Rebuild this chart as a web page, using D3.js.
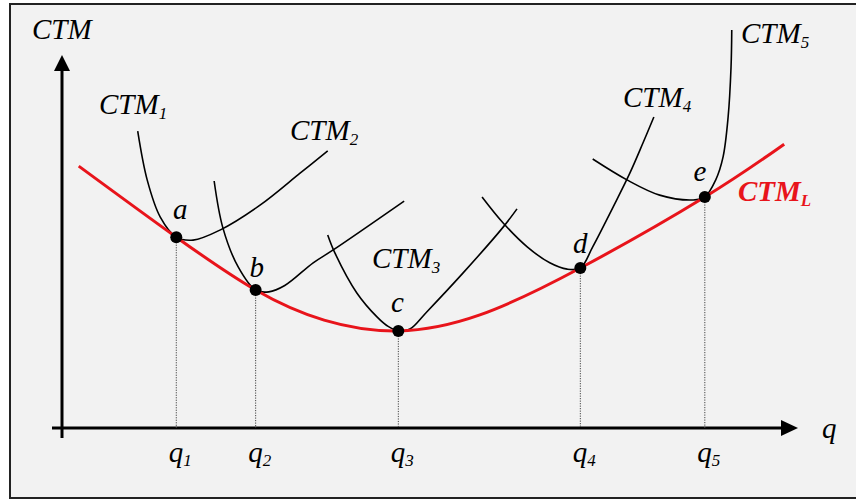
<!DOCTYPE html>
<html>
<head>
<meta charset="utf-8">
<script src="https://cdn.jsdelivr.net/npm/d3@7"></script>
<style>
  body { margin: 0; background: #fff; }
  text { font-family: "Liberation Serif", "Times New Roman", serif; font-style: italic; }
</style>
</head>
<body>
<div id="chart"></div>
<script>
// tangency points on the long-run curve (q, CTM)
const pointNames = ["a", "b", "c", "d", "e"];
const pointQ = [15.7, 26.6, 46.2, 71.2, 88.3];
const pointC = [51.3, 37.1, 26.1, 43.0, 62.1];
const qSubs = ["1", "2", "3", "4", "5"];

// long-run envelope CTM_L
const envQ = [2.3, 15.7, 26.6, 36.0, 46.2, 57.4, 71.2, 88.3, 99.2];
const envC = [70.4, 51.3, 37.1, 29.0, 26.1, 30.4, 43.0, 62.1, 76.3];

// short-run curves CTM_1 .. CTM_5
const ctm1Q = [10.4, 11.7, 13.5, 15.7, 18.0, 21.7, 27.2, 32.7, 36.5];
const ctm1C = [79.8, 66.7, 56.7, 51.3, 50.5, 53.2, 59.9, 68.5, 74.5];
const ctm2Q = [20.9, 22.1, 24.2, 26.6, 28.4, 30.6, 34.5, 37.2, 47.0];
const ctm2C = [66.4, 53.8, 43.3, 37.1, 36.6, 38.3, 44.4, 47.8, 61.0];
const ctm3Q = [36.5, 37.5, 40.5, 43.3, 44.8, 46.2, 47.8, 50.1, 55.1, 60.6, 62.5];
const ctm3C = [51.9, 47.0, 36.3, 29.8, 27.3, 26.1, 26.6, 31.2, 41.7, 54.0, 58.9];
const ctm4Q = [57.7, 60.6, 63.9, 67.0, 69.4, 71.2, 72.9, 75.7, 78.0, 79.8, 81.3];
const ctm4C = [62.1, 55.1, 48.7, 44.4, 42.7, 43.0, 48.7, 59.4, 68.5, 76.6, 83.6];
const ctm5Q = [72.9, 77.6, 82.1, 86.7, 88.3, 89.8, 90.8, 91.5, 91.9, 92.0];
const ctm5C = [72.3, 66.7, 62.6, 61.3, 62.1, 66.7, 72.8, 83.6, 97.0, 107.0];

const W = 856, H = 502;
const RED = "#e8141b";

const svg = d3.select("#chart").append("svg")
  .attr("width", W)
  .attr("height", H);

svg.append("rect")
  .attr("x", 10).attr("y", 4)
  .attr("width", 860).attr("height", 494)
  .attr("fill", "#f2f2f2")
  .attr("stroke", "#222")
  .attr("stroke-width", 2);

const x = d3.scaleLinear().domain([0, 100]).range([62, 790]);
const y = d3.scaleLinear().domain([0, 100]).range([428, 56]);

const line = d3.line()
  .x((d) => x(d[0]))
  .y((d) => y(d[1]))
  .curve(d3.curveCatmullRom.alpha(0.5));

// axes
const ax = svg.append("g");
ax.append("line")
  .attr("x1", x(0)).attr("x2", x(0))
  .attr("y1", y(0) + 10).attr("y2", y(100) + 12)
  .attr("stroke", "#000").attr("stroke-width", 3);
ax.append("path")
  .attr("d", `M${x(0)},${y(100) - 1}l-8,16h16z`)
  .attr("fill", "#000");
ax.append("line")
  .attr("x1", x(0) - 10).attr("x2", x(100) - 6)
  .attr("y1", y(0)).attr("y2", y(0))
  .attr("stroke", "#000").attr("stroke-width", 3);
ax.append("path")
  .attr("d", `M${x(100) + 8},${y(0)}l-17,-8v16z`)
  .attr("fill", "#000");

// dotted drop lines
const pts = pointQ.map((q, i) => ({ q, c: pointC[i], name: pointNames[i], sub: qSubs[i] }));
svg.selectAll(".drop")
  .data(pts)
  .join("line")
  .attr("class", "drop")
  .attr("x1", (d) => x(d.q)).attr("x2", (d) => x(d.q))
  .attr("y1", (d) => y(d.c)).attr("y2", y(0))
  .attr("stroke", "#444")
  .attr("stroke-width", 1)
  .attr("stroke-dasharray", "1.2,1.3");

// short-run curves
const shortRun = [
  [ctm1Q, ctm1C], [ctm2Q, ctm2C], [ctm3Q, ctm3C], [ctm4Q, ctm4C], [ctm5Q, ctm5C]
].map(([qs, cs]) => qs.map((q, i) => [q, cs[i]]));

svg.selectAll(".srac")
  .data(shortRun)
  .join("path")
  .attr("class", "srac")
  .attr("d", line)
  .attr("fill", "none")
  .attr("stroke", "#000")
  .attr("stroke-width", 1.6);

// long-run envelope
svg.append("path")
  .attr("d", line.curve(d3.curveNatural)(envQ.map((q, i) => [q, envC[i]])))
  .attr("fill", "none")
  .attr("stroke", RED)
  .attr("stroke-width", 3);

svg.selectAll(".dot")
  .data(pts)
  .join("circle")
  .attr("class", "dot")
  .attr("cx", (d) => x(d.q))
  .attr("cy", (d) => y(d.c))
  .attr("r", 6)
  .attr("fill", "#000");

// labels
const FS = 29, SUB = 17;
const dx = [4, 1, -1, 0, -5];
const dy = [-18, -13, -19, -15, -16];

svg.selectAll(".pt-label")
  .data(pts)
  .join("text")
  .attr("class", "pt-label")
  .attr("x", (d, i) => x(d.q) + dx[i])
  .attr("y", (d, i) => y(d.c) + dy[i])
  .attr("text-anchor", "middle")
  .attr("font-size", FS)
  .text((d) => d.name);

const qLab = svg.selectAll(".q-label")
  .data(pts)
  .join("text")
  .attr("class", "q-label")
  .attr("x", (d) => x(d.q) + 4)
  .attr("y", 462)
  .attr("text-anchor", "middle")
  .attr("font-size", FS);
qLab.append("tspan").text("q");
qLab.append("tspan").attr("font-size", SUB).attr("dy", 4).text((d) => d.sub);

function label(px, py, main, sub, color, bold) {
  const t = svg.append("text")
    .attr("x", px).attr("y", py)
    .attr("font-size", FS)
    .attr("fill", color || "#000")
    .attr("font-weight", bold ? "bold" : "normal");
  t.append("tspan").text(main);
  if (sub) t.append("tspan").attr("font-size", SUB).attr("dy", 5).text(sub);
}

label(32, 39, "CTM");
label(99, 114, "CTM", "1");
label(290, 140, "CTM", "2");
label(372, 268, "CTM", "3");
label(623, 107, "CTM", "4");
label(741, 43, "CTM", "5");
label(738, 201, "CTM", "L", RED, true);
label(822, 438, "q");
</script>
</body>
</html>
